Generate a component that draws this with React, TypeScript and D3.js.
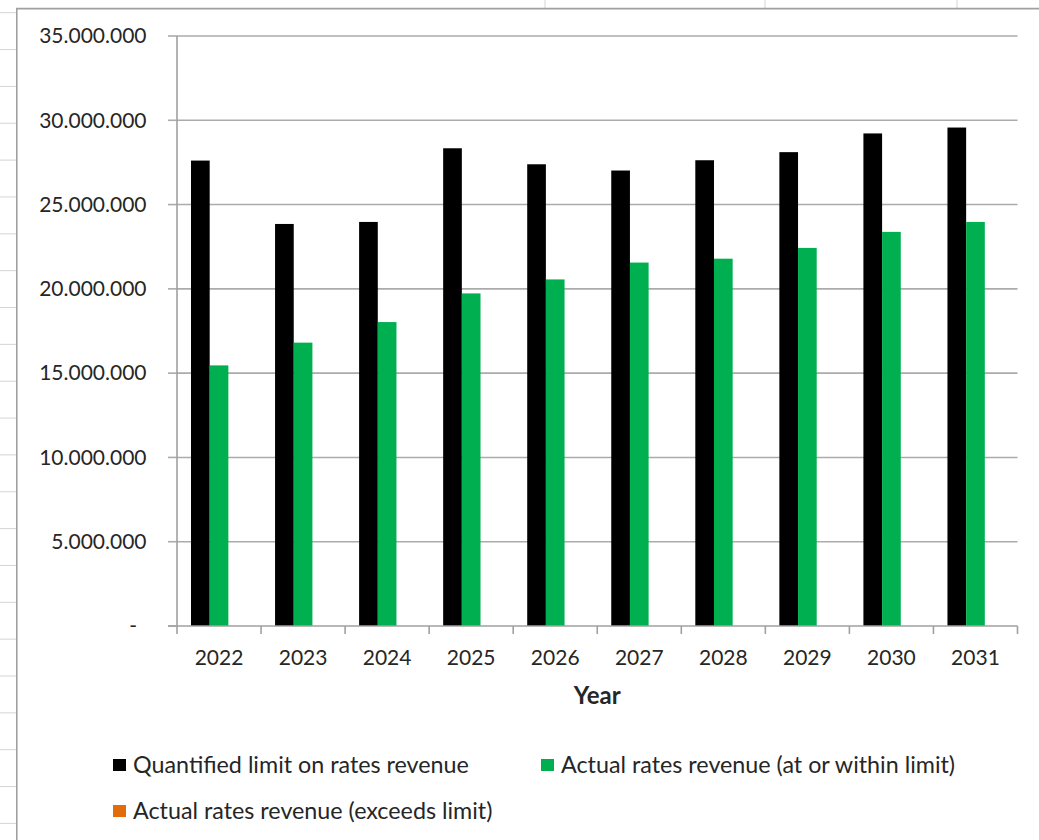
import React from "react";
import * as d3 from "d3";

const years = ["2022", "2023", "2024", "2025", "2026", "2027", "2028", "2029", "2030", "2031"];
const limitValues = [27.61, 23.85, 23.97, 28.34, 27.39, 27.02, 27.63, 28.11, 29.22, 29.57].map((v) => v * 1e6);
const withinValues = [15.46, 16.81, 18.03, 19.73, 20.56, 21.56, 21.79, 22.43, 23.38, 23.97].map((v) => v * 1e6);
const exceedsValues = [0, 0, 0, 0, 0, 0, 0, 0, 0, 0];
const seriesNames = [
  "Quantified limit on rates revenue",
  "Actual rates revenue (at or within limit)",
  "Actual rates revenue (exceeds limit)",
];
const seriesColors = ["#000000", "#00B050", "#E36C0A"];
const yTicks = [0, 5e6, 10e6, 15e6, 20e6, 25e6, 30e6, 35e6];

const W = 1039;
const H = 840;
const FONT = "Lato, 'DejaVu Sans', sans-serif";

export default function App() {
  const left = 177;
  const right = 1017.5;
  const top = 36;
  const bottom = 626;

  const x0 = d3.scaleBand<string>().domain(years).range([left, right]).padding(0);
  const x1 = d3
    .scaleBand<string>()
    .domain(seriesNames)
    .range([0, x0.bandwidth()])
    .paddingInner(0)
    .paddingOuter(0.75);
  const y = d3.scaleLinear().domain([0, 35e6]).range([bottom, top]);

  const allSeries = [limitValues, withinValues, exceedsValues];
  const fmt = (v: number) =>
    v === 0 ? "-" : d3.format(",")(v).replace(/,/g, ".");

  // spreadsheet background grid
  const rowLines: number[] = [];
  for (let yy = 12.7; yy < H; yy += 36.85) rowLines.push(yy);
  const colLines = [545, 765, 957];

  return (
    <div style={{ position: "absolute", left: 0, top: 0 }}>
      <svg width={W} height={H} style={{ display: "block", background: "#fff" }}>
        {/* spreadsheet grid */}
        {rowLines.map((yy, i) => (
          <line key={"r" + i} x1={0} x2={16.5} y1={yy} y2={yy} stroke="#d4d4d4" strokeWidth={1} />
        ))}
        {colLines.map((xx, i) => (
          <line key={"c" + i} x1={xx} x2={xx} y1={0} y2={8.5} stroke="#d4d4d4" strokeWidth={1} />
        ))}
        {/* chart area border */}
        <line x1={16.8} x2={16.8} y1={8.6} y2={H} stroke="#a0a0a0" strokeWidth={1.6} />
        <line x1={16} x2={W} y1={8.6} y2={8.6} stroke="#a0a0a0" strokeWidth={1.6} />

        {/* gridlines */}
        {yTicks.map((t) => (
          <g key={"g" + t}>
            {t > 0 && (
              <line x1={left} x2={right} y1={y(t)} y2={y(t)} stroke="#ababab" strokeWidth={1.6} />
            )}
            <line x1={left - 9} x2={left} y1={y(t)} y2={y(t)} stroke="#ababab" strokeWidth={1.6} />
            <text
              x={t === 0 ? 137 : 146.5}
              y={y(t)}
              dy="0.35em"
              textAnchor="end"
              fontFamily={FONT}
              fontSize={21}
              fill="#262626"
            >
              {fmt(t)}
            </text>
          </g>
        ))}

        {/* bars */}
        {years.map((yr, i) => (
          <g key={"b" + yr} transform={`translate(${x0(yr)},0)`}>
            {allSeries.map((vals, s) => (
              <rect
                key={s}
                x={x1(seriesNames[s])}
                y={y(vals[i])}
                width={x1.bandwidth()}
                height={bottom - y(vals[i])}
                fill={seriesColors[s]}
              />
            ))}
          </g>
        ))}

        {/* axes */}
        <line x1={left} x2={left} y1={top} y2={bottom} stroke="#a0a0a0" strokeWidth={1.6} />
        <line x1={left - 9} x2={right} y1={bottom} y2={bottom} stroke="#a0a0a0" strokeWidth={1.6} />
        {[...years.map((yr) => x0(yr) as number), right].map((xx, i) => (
          <line key={"xt" + i} x1={xx} x2={xx} y1={bottom} y2={bottom + 8} stroke="#a0a0a0" strokeWidth={1.6} />
        ))}
        {years.map((yr) => (
          <text
            key={"xl" + yr}
            x={(x0(yr) as number) + x0.bandwidth() / 2}
            y={665}
            textAnchor="middle"
            fontFamily={FONT}
            fontSize={21}
            fill="#262626"
          >
            {yr}
          </text>
        ))}
        <text
          x={(left + right) / 2}
          y={704}
          textAnchor="middle"
          fontFamily={FONT}
          fontSize={24}
          fontWeight="bold"
          fill="#262626"
        >
          Year
        </text>

        {/* legend */}
        {[
          { x: 113, y: 759 },
          { x: 541, y: 759 },
          { x: 113, y: 805 },
        ].map((p, s) => (
          <g key={"lg" + s}>
            <rect x={p.x} y={p.y} width={13} height={12} fill={seriesColors[s]} />
            <text
              x={p.x + 20}
              y={p.y + 6}
              dy="0.35em"
              fontFamily={FONT}
              fontSize={23.3}
              fill="#262626"
            >
              {seriesNames[s]}
            </text>
          </g>
        ))}
      </svg>
    </div>
  );
}
